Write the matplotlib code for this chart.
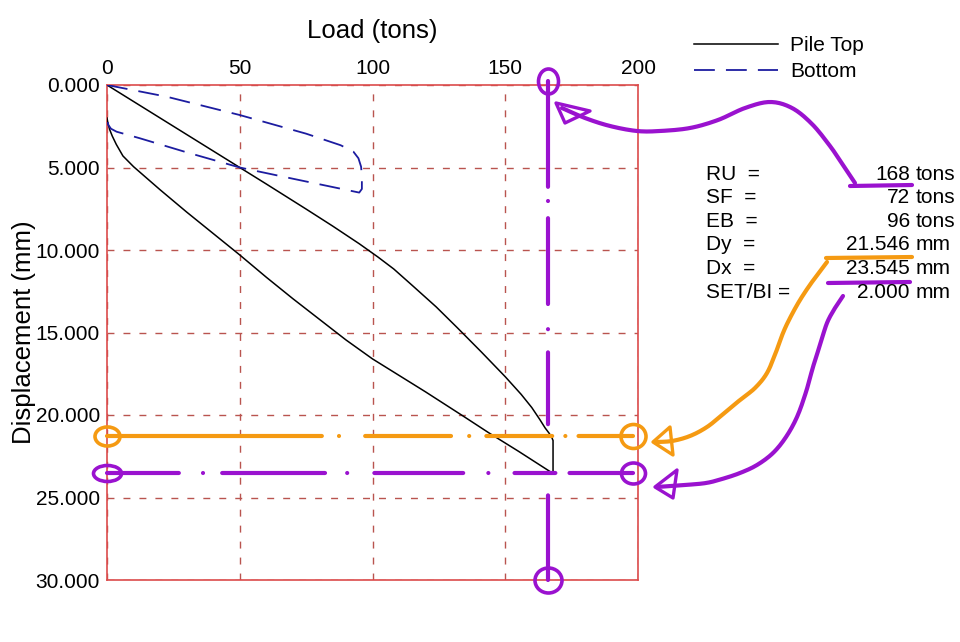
import numpy as np
import matplotlib
matplotlib.use("Agg")
import matplotlib.pyplot as plt
from matplotlib.path import Path
from matplotlib.transforms import Affine2D
from matplotlib.lines import Line2D
from matplotlib.patches import Polygon

plt.rcParams['font.family'] = ['Liberation Sans', 'DejaVu Sans']
plt.rcParams['lines.scale_dashes'] = False

# ---------------- data ----------------
top_load = [0, 20, 40, 60, 75, 85, 95, 102, 108, 115, 124, 132, 141, 150, 156, 160, 163,
            165, 166.5, 167.5, 168,
            168, 155, 144, 134, 120, 110, 100, 90, 80, 70, 60, 50, 40, 30, 20, 10,
            6, 3.5, 2, 1, 0.4, 0]
top_disp = [0, 2.0, 4.0, 6.0, 7.52, 8.55, 9.62, 10.42, 11.15, 12.15, 13.45, 14.72, 16.18,
            17.68, 18.75, 19.55, 20.27, 20.78, 21.1, 21.35, 21.546,
            23.545, 22.2, 21.1, 20.05, 18.6, 17.6, 16.6, 15.45, 14.2, 12.95, 11.65,
            10.3, 9.0, 7.7, 6.35, 4.95, 4.3, 3.6, 3.1, 2.7, 2.35, 2.0]

bot_load = [0, 22.5, 50, 75, 88, 92.8, 94.7, 95.7, 96, 96, 95, 70, 50, 30, 12.4,
            3.6, 1.5, 0.5, 0]
bot_disp = [0, 0.71, 1.82, 2.95, 3.65, 4.04, 4.44, 4.95, 5.5, 6.3, 6.52, 5.68, 5.0,
            4.08, 3.23, 2.83, 2.65, 2.42, 2.0]

x_ticks = [0, 50, 100, 150, 200]
y_ticks = [0, 5, 10, 15, 20, 25, 30]

summary_labels = ['RU  =', 'SF  =', 'EB  =', 'Dy  =', 'Dx  =', 'SET/BI =']
summary_values = ['168', '72', '96', '21.546', '23.545', '2.000']
summary_units = ['tons', 'tons', 'tons', 'mm', 'mm', 'mm']

# hand-drawn marks (data positions)
ru_mark_x = 166
dy_mark_y = 21.3
dx_mark_y = 23.5

PURPLE = '#9a12cf'
ORANGE = '#f59a12'

# ---------------- figure ----------------
fig = plt.figure(figsize=(9.6, 6.42), dpi=100)
ax = fig.add_axes([107/960, 1-580/642, (638-107)/960, (580-85)/642])
px = Affine2D().scale(1/960, -1/642).translate(0, 1) + fig.transFigure

ax.set_xlim(0, 200)
ax.set_ylim(30, 0)
ax.set_xticks(x_ticks)
ax.set_yticks(y_ticks)
ax.set_yticklabels([f"{v:.3f}" for v in y_ticks])
ax.xaxis.tick_top()
ax.xaxis.set_label_position('top')
ax.tick_params(axis='x', length=0, labelsize=15, pad=5)
ax.tick_params(axis='y', length=0, labelsize=15, pad=5)
ax.set_xlabel('Load (tons)', fontsize=18.5, labelpad=15.5)
ax.set_ylabel('Displacement (mm)', fontsize=18.5, labelpad=0)
for s in ax.spines.values():
    s.set_color('#dc4b4b')
    s.set_linewidth(1.2)
ax.grid(True, color='#b9544f', linestyle=(0, (5, 6.5)), linewidth=1.0)

ax.plot(top_load, top_disp, color='black', lw=1.1, label='Pile Top', zorder=3,
        solid_joinstyle='round')
ax.plot(bot_load, bot_disp, color='#1c1ca0', lw=1.3, linestyle=(0, (15, 8)),
        label='Bottom', zorder=3)

leg = ax.legend(loc='upper left', bbox_to_anchor=(694/960, 1-36/642),
                bbox_transform=fig.transFigure, frameon=False, fontsize=15,
                handlelength=4.03, handletextpad=0.6, borderpad=0,
                borderaxespad=0, labelspacing=0.35)

# summary text block
for i, (lab, val, unit) in enumerate(zip(summary_labels, summary_values, summary_units)):
    y = 174 + i*23.6
    fig.text(706, y, lab, transform=px, fontsize=15, va='center', ha='left')
    fig.text(910, y, val, transform=px, fontsize=15, va='center', ha='right')
    fig.text(916, y, unit, transform=px, fontsize=15, va='center', ha='left')

# ---------------- hand-drawn annotations ----------------
def hand_dashes(pattern_px, lw_pt):
    lw_px = lw_pt / 0.72
    out = []
    for i, v in enumerate(pattern_px):
        if i % 2 == 0:
            out.append(max(v - lw_px, 0.01) * 0.72)
        else:
            out.append((v + lw_px) * 0.72)
    return (0, tuple(out))

LW = 3.0
ax.plot([0, 198], [dy_mark_y, dy_mark_y], color=ORANGE, lw=LW, clip_on=False,
        solid_capstyle='round', dash_capstyle='round', zorder=5,
        linestyle=hand_dashes([219, 13, 2, 22, 90, 14, 2, 13, 70, 9, 2, 9, 68, 200], LW))
ax.plot([0, 198], [dx_mark_y, dx_mark_y], color=PURPLE, lw=LW, clip_on=False,
        solid_capstyle='round', dash_capstyle='round', zorder=5,
        linestyle=hand_dashes([76, 20, 2, 15, 107, 18, 2, 23, 93, 21, 2, 22, 45, 10, 77, 200], LW))
ax.plot([ru_mark_x, ru_mark_x], [-0.27, 30], color=PURPLE, lw=LW, clip_on=False,
        solid_capstyle='round', dash_capstyle='round', zorder=5,
        linestyle=hand_dashes([110, 10, 2, 13, 90, 21, 2, 19, 76, 67, 95, 200], LW))

def ellipse_marker(w, h):
    c = Path.unit_circle()
    return Path(c.vertices * np.array([w, h]), c.codes)

circles = [
    (0, dy_mark_y, 25, 19, ORANGE), (198, dy_mark_y, 25, 24, ORANGE),
    (0, dx_mark_y, 28, 16, PURPLE), (198, dx_mark_y, 24, 21, PURPLE),
    (ru_mark_x, -0.27, 20, 25, PURPLE), (ru_mark_x, 30, 27, 25, PURPLE),
]
for cx, cy, w, h, col in circles:
    ax.plot([cx], [cy], marker=ellipse_marker(w, h), markersize=max(w, h)*0.72,
            markerfacecolor='none', markeredgecolor=col, markeredgewidth=2.6,
            clip_on=False, zorder=6)

def smooth(pts, n=12):
    p = np.array(pts, float)
    p = np.vstack([p[0], p, p[-1]])
    out = []
    for i in range(1, len(p)-2):
        p0, p1, p2, p3 = p[i-1], p[i], p[i+1], p[i+2]
        for t in np.linspace(0, 1, n, endpoint=False):
            out.append(0.5*((2*p1) + (-p0+p2)*t + (2*p0-5*p1+4*p2-p3)*t**2 + (-p0+3*p1-3*p2+p3)*t**3))
    out.append(p[-2])
    return np.array(out)

arrows = [
    (PURPLE, [(855, 183), (843, 165), (830, 146), (812, 124), (792, 108), (770, 102),
              (745, 108), (718, 120), (690, 128), (660, 131), (637, 131), (610, 126),
              (585, 118), (562, 108)],
     [(556, 103), (590, 111), (565, 123)]),
    (ORANGE, [(827, 262), (812, 282), (800, 300), (790, 318), (783, 333), (776, 352),
              (767, 373), (755, 388), (740, 400), (722, 415), (707, 427), (690, 436),
              (672, 441), (655, 442)],
     [(653, 442), (670, 427), (673, 455)]),
    (PURPLE, [(843, 296), (835, 308), (827, 323), (820, 345), (813, 367), (806, 392),
              (797, 417), (786, 437), (773, 453), (757, 465), (740, 473), (722, 479),
              (706, 483), (685, 485), (657, 487)],
     [(655, 487), (677, 470), (673, 498)]),
]
for col, pts, head in arrows:
    c = smooth(pts)
    fig.add_artist(Line2D(c[:, 0], c[:, 1], transform=px, color=col, lw=3.0,
                          solid_capstyle='round', solid_joinstyle='round'))
    fig.add_artist(Polygon(head, closed=True, fill=False, edgecolor=col, lw=2.4,
                           transform=px, joinstyle='round'))

underlines = [((850, 186), (912, 185), PURPLE), ((826, 258), (912, 257), ORANGE),
              ((828, 283), (910, 282), PURPLE)]
for (x0, y0), (x1, y1), col in underlines:
    fig.add_artist(Line2D([x0, x1], [y0, y1], transform=px, color=col, lw=3.0,
                          solid_capstyle='round'))

fig.savefig('out.png', dpi=100, facecolor='white')
